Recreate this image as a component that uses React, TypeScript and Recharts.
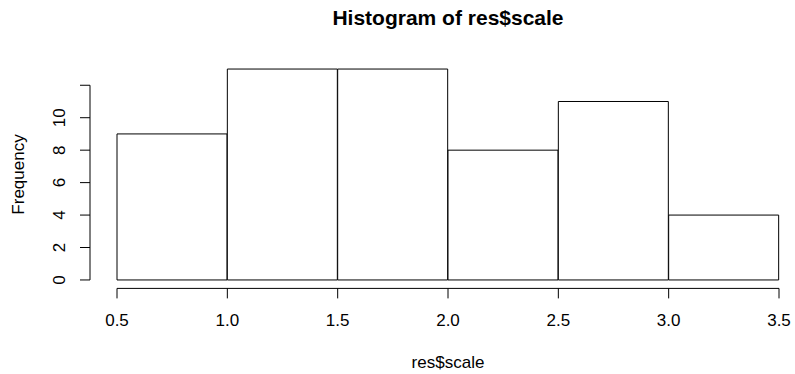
import { Bar, ComposedChart, ReferenceLine, XAxis, YAxis } from "recharts";

// histogram bins of res$scale
const binStarts = [0.5, 1.0, 1.5, 2.0, 2.5, 3.0];
const binWidth = 0.5;
const counts = [9, 13, 13, 8, 11, 4];

const xTicks = [0.5, 1.0, 1.5, 2.0, 2.5, 3.0, 3.5];
const yTicks = [0, 2, 4, 6, 8, 10, 12];
const yTickLabels = ["0", "2", "4", "6", "8", "10", ""];

const title = "Histogram of res$scale";
const xLabel = "res$scale";
const yLabel = "Frequency";

const data = binStarts.map((start, i) => ({
  mid: start + binWidth / 2,
  count: counts[i],
}));

const font = "'Liberation Sans', Arial, Helvetica, sans-serif";
const xDomain: [number, number] = [0.3776, 3.5725];
const yDomain: [number, number] = [-0.52, 13.52];

function YTick(props: any) {
  const { x, y, payload } = props;
  const i = yTicks.indexOf(payload.value);
  const tx = x - 13;
  return (
    <text
      x={tx}
      y={y}
      transform={`rotate(-90, ${tx}, ${y})`}
      textAnchor="middle"
      fontSize={17}
      fontFamily={font}
      fill="#000"
    >
      {yTickLabels[i]}
    </text>
  );
}

function XTick(props: any) {
  const { x, y, payload } = props;
  return (
    <text
      x={x}
      y={y + 26}
      textAnchor="middle"
      fontSize={17}
      fontFamily={font}
      fill="#000"
    >
      {Number(payload.value).toFixed(1)}
    </text>
  );
}

export default function App() {
  return (
    <div style={{ position: "absolute", left: 0, top: 0, background: "#fff" }}>
      <ComposedChart
        width={795}
        height={374}
        data={data}
        margin={{ top: 60.6, right: 0, bottom: 55.6, left: 0 }}
        barCategoryGap={0}
        barGap={0}
      >
        <XAxis
          type="number"
          dataKey="mid"
          domain={xDomain}
          allowDataOverflow
          ticks={xTicks}
          axisLine={false}
          tickSize={10}
          tickLine={{ stroke: "#000" }}
          tick={<XTick />}
          height={30}
          interval={0}
        />
        <YAxis
          type="number"
          domain={yDomain}
          allowDataOverflow
          ticks={yTicks}
          axisLine={false}
          tickSize={10}
          tickLine={{ stroke: "#000" }}
          tick={<YTick />}
          width={90}
          interval={0}
        />
        <ReferenceLine
          segment={[
            { x: xTicks[0], y: yDomain[0] },
            { x: xTicks[xTicks.length - 1], y: yDomain[0] },
          ]}
          stroke="#000"
          ifOverflow="visible"
        />
        <ReferenceLine
          segment={[
            { x: xDomain[0], y: yTicks[0] },
            { x: xDomain[0], y: yTicks[yTicks.length - 1] },
          ]}
          stroke="#000"
          ifOverflow="visible"
        />
        <Bar
          dataKey="count"
          fill="#fff"
          stroke="#000"
          strokeWidth={1}
          isAnimationActive={false}
        />
        <text
          x={448}
          y={25}
          textAnchor="middle"
          fontSize={21}
          fontWeight="bold"
          fontFamily={font}
          fill="#000"
        >
          {title}
        </text>
        <text
          x={448}
          y={368}
          textAnchor="middle"
          fontSize={17}
          fontFamily={font}
          fill="#000"
        >
          {xLabel}
        </text>
        <text
          x={24}
          y={174.5}
          transform="rotate(-90, 24, 174.5)"
          textAnchor="middle"
          fontSize={17}
          fontFamily={font}
          fill="#000"
        >
          {yLabel}
        </text>
      </ComposedChart>
    </div>
  );
}
